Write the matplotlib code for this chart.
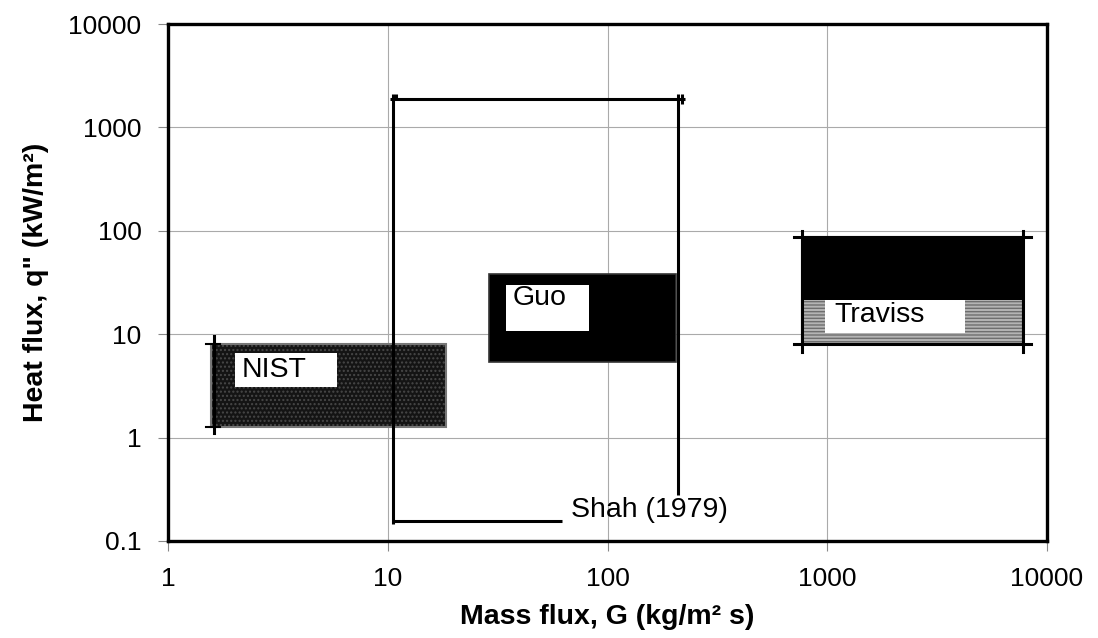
import matplotlib
matplotlib.use("Agg")
import matplotlib.pyplot as plt
from matplotlib.patches import Rectangle
from matplotlib.ticker import FixedLocator, FixedFormatter, NullLocator

plt.rcParams['font.family'] = ['Liberation Sans', 'DejaVu Sans']
plt.rcParams['hatch.linewidth'] = 1.0

# ---- data (mass flux G in kg/m2 s, heat flux q in kW/m2) ----
nist_G = [1.57, 18.5]
nist_q = [1.27, 8.0]
guo_G = [28.8, 204.0]
guo_q = [5.4, 38.0]
traviss_G = [770.0, 7800.0]
traviss_q = [8.0, 87.0]
traviss_split_q = 21.4
shah_G = [10.6, 210.0]
shah_q = [0.156, 1870.0]
shah_bottom_end_G = 62.0
shah_right_end_q = 0.28

x_ticks = [1, 10, 100, 1000, 10000]
x_tick_labels = ["1", "10", "100", "1000", "10000"]
y_ticks = [0.1, 1, 10, 100, 1000, 10000]
y_tick_labels = ["0.1", "1", "10", "100", "1000", "10000"]

fig = plt.figure(figsize=(10.98, 6.38), dpi=100)
ax = fig.add_axes([168/1098, 1-541/638, (1047-168)/1098, (541-24)/638])
ax.set_xscale('log')
ax.set_yscale('log')
ax.set_xlim(x_ticks[0], x_ticks[-1])
ax.set_ylim(y_ticks[0], y_ticks[-1])

ax.xaxis.set_major_locator(FixedLocator(x_ticks))
ax.xaxis.set_major_formatter(FixedFormatter(x_tick_labels))
ax.yaxis.set_major_locator(FixedLocator(y_ticks))
ax.yaxis.set_major_formatter(FixedFormatter(y_tick_labels))
ax.xaxis.set_minor_locator(NullLocator())
ax.yaxis.set_minor_locator(NullLocator())
ax.tick_params(axis='both', which='major', labelsize=19, length=7, width=0.8,
               color='#888888', direction='out')
ax.tick_params(axis='x', pad=12)
ax.tick_params(axis='y', pad=12)
ax.grid(True, color='#aaaaaa', linewidth=0.8, zorder=0)
for s in ax.spines.values():
    s.set_linewidth(2.4)
    s.set_color('black')

ax.set_xlabel("Mass flux, G (kg/m² s)", fontsize=20.5, fontweight='bold', labelpad=9)
ax.set_ylabel("Heat flux, q\" (kW/m²)", fontsize=20.5, fontweight='bold', labelpad=14)

# ---- NIST box ----
ax.add_patch(Rectangle((nist_G[0], nist_q[0]), nist_G[1]-nist_G[0], nist_q[1]-nist_q[0],
                       facecolor='#141414', edgecolor='#484848', hatch='....',
                       linewidth=0, zorder=3))
ax.add_patch(Rectangle((nist_G[0], nist_q[0]), nist_G[1]-nist_G[0], nist_q[1]-nist_q[0],
                       facecolor='none', edgecolor='#777777', linewidth=1.5, zorder=4))
ax.plot([nist_G[0]*1.03]*2, [nist_q[0]*0.88, nist_q[1]*1.2], color='black', lw=2.2, zorder=5)
ax.plot([nist_G[0]*0.95, nist_G[0]*1.1], [nist_q[1]]*2, color='black', lw=1.5, zorder=5)
ax.plot([nist_G[0]*0.95, nist_G[0]*1.1], [nist_q[0]]*2, color='black', lw=1.5, zorder=5)

# ---- Guo box ----
ax.add_patch(Rectangle((guo_G[0], guo_q[0]), guo_G[1]-guo_G[0], guo_q[1]-guo_q[0],
                       facecolor='black', edgecolor='#333333', linewidth=1.2, zorder=3))

# ---- Traviss box ----
ax.add_patch(Rectangle((traviss_G[0], traviss_q[0]), traviss_G[1]-traviss_G[0],
                       traviss_split_q-traviss_q[0],
                       facecolor='#b4b4b4', edgecolor='#6e6e6e', hatch='-----',
                       linewidth=0, zorder=3))
ax.add_patch(Rectangle((traviss_G[0], traviss_split_q), traviss_G[1]-traviss_G[0],
                       traviss_q[1]-traviss_split_q,
                       facecolor='black', edgecolor='black', linewidth=0, zorder=3))
ax.add_patch(Rectangle((traviss_G[0], traviss_q[0]), traviss_G[1]-traviss_G[0],
                       traviss_q[1]-traviss_q[0],
                       facecolor='none', edgecolor='#333333', linewidth=1.5, zorder=4))
for g in traviss_G:
    ax.plot([g, g], [traviss_q[0]*0.85, traviss_q[1]*1.15], color='black', lw=2.2, zorder=5)
for q in traviss_q:
    ax.plot([traviss_G[0]*0.92, traviss_G[1]*1.08], [q, q], color='black', lw=2.2, zorder=5)

# ---- Shah (1979) range ----
lk = dict(color='black', lw=2.2, zorder=6, solid_capstyle='butt')
ax.plot([shah_G[0], shah_G[0]], [shah_q[0]*0.93, shah_q[1]*1.13], **lk)
ax.plot([shah_G[0]*0.97, shah_G[1]*1.07], [shah_q[1], shah_q[1]], **lk)
ax.plot([shah_G[1], shah_G[1]], [shah_right_end_q, shah_q[1]*1.13], **lk)
ax.plot([shah_G[0], shah_bottom_end_G], [shah_q[0], shah_q[0]], **lk)
ax.plot([shah_G[0]*1.03]*2, [shah_q[1], shah_q[1]*1.13], **lk)
ax.plot([shah_G[1]*1.035]*2, [shah_q[1]*0.9, shah_q[1]*1.13], **lk)

# ---- labels ----
def label_box(x0, x1, y0, y1):
    ax.add_patch(Rectangle((x0, y0), x1-x0, y1-y0, facecolor='white',
                           edgecolor='none', zorder=7))

label_box(2.02, 5.86, 3.08, 6.58)
ax.text(2.17, 4.5, "NIST", fontsize=20.5, ha='left', va='center', zorder=8)
label_box(34.4, 82.0, 10.7, 29.9)
ax.text(37.0, 22.4, "Guo", fontsize=20.5, ha='left', va='center', zorder=8)
label_box(979, 4240, 10.3, 21.4)
ax.text(1076, 15.5, "Traviss", fontsize=20.5, ha='left', va='center', zorder=8)
ax.text(67.9, 0.2, "Shah (1979)", fontsize=20.5, ha='left', va='center', zorder=8)

fig.savefig("out.png", dpi=100)
